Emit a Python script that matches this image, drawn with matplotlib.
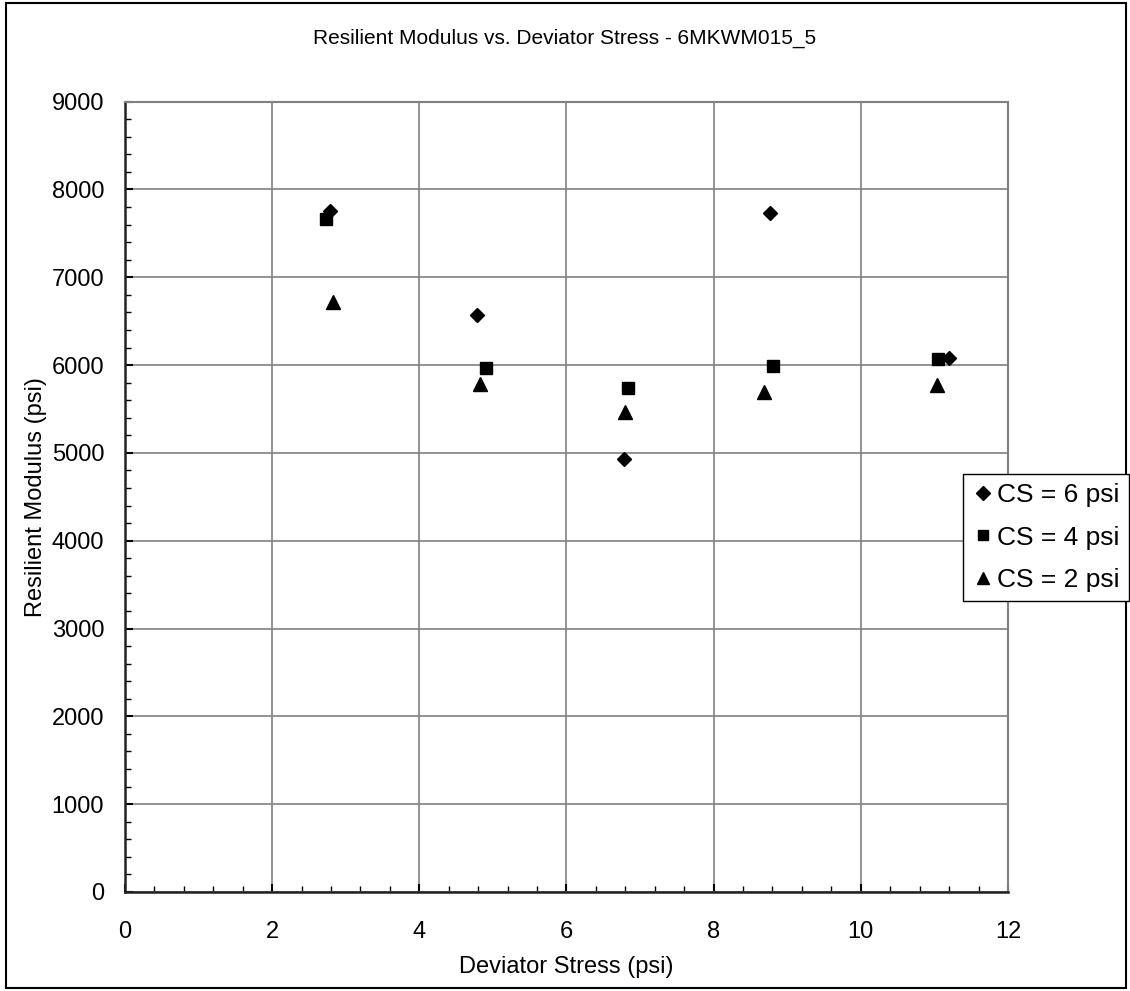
import matplotlib.pyplot as plt
import matplotlib.patches as patches
from matplotlib.ticker import MultipleLocator

plt.rcParams['font.family'] = ['Liberation Sans', 'DejaVu Sans']

# data
cs6_x = [2.78, 4.79, 6.78, 8.77, 11.20]
cs6_y = [7754, 6571, 4926, 7731, 6084]
cs4_x = [2.73, 4.91, 6.84, 8.81, 11.05]
cs4_y = [7662, 5965, 5735, 5990, 6065]
cs2_x = [2.83, 4.82, 6.80, 8.68, 11.04]
cs2_y = [6722, 5781, 5465, 5693, 5769]

fig = plt.figure(figsize=(11.3, 9.91), dpi=100)
ax = fig.add_axes([0.1106, 0.0999, 0.892 - 0.1106, 0.8974 - 0.0999])

ax.plot(cs6_x, cs6_y, linestyle='none', marker='D', ms=7.5, color='black', label='CS = 6 psi')
ax.plot(cs4_x, cs4_y, linestyle='none', marker='s', ms=8, color='black', label='CS = 4 psi')
ax.plot(cs2_x, cs2_y, linestyle='none', marker='^', ms=10, color='black', label='CS = 2 psi')

ax.set_xlim(0, 12)
ax.set_ylim(0, 9000)
ax.xaxis.set_major_locator(MultipleLocator(2))
ax.xaxis.set_minor_locator(MultipleLocator(0.4))
ax.yaxis.set_major_locator(MultipleLocator(1000))
ax.yaxis.set_minor_locator(MultipleLocator(200))
ax.grid(True, which='major', color='#808080', linewidth=1.2)
ax.set_axisbelow(True)

ax.tick_params(which='major', direction='in', length=6, width=1.5, labelsize=17)
ax.tick_params(which='minor', direction='in', length=4, width=1)
ax.tick_params(axis='x', which='major', pad=21)
ax.tick_params(axis='y', which='major', pad=15)
for side in ['top', 'right']:
    ax.spines[side].set_color('#808080')
    ax.spines[side].set_linewidth(1.5)
for side in ['left', 'bottom']:
    ax.spines[side].set_color('#222222')
    ax.spines[side].set_linewidth(1.8)

ax.set_xlabel('Deviator Stress (psi)', fontsize=17, labelpad=9)
ax.set_ylabel('Resilient Modulus (psi)', fontsize=17, labelpad=3)
fig.text(0.5, 0.961, 'Resilient Modulus vs. Deviator Stress - 6MKWM015_5',
         ha='center', va='center', fontsize=15)

leg = fig.legend(loc='upper left', bbox_to_anchor=(963 / 1130, 1 - 474 / 991),
                 fontsize=19, frameon=True, fancybox=False, edgecolor='black',
                 framealpha=1, handlelength=0.8, handletextpad=0.15, borderpad=0.35,
                 labelspacing=0.7, borderaxespad=0, markerscale=0.9)
leg.get_frame().set_linewidth(1.0)

# outer chart border
fig.patches.append(patches.Rectangle((6 / 1130, 3 / 991), 1120 / 1130, 985 / 991,
                                     transform=fig.transFigure, fill=False,
                                     edgecolor='black', linewidth=1.5))

plt.savefig('out.png', dpi=100)
